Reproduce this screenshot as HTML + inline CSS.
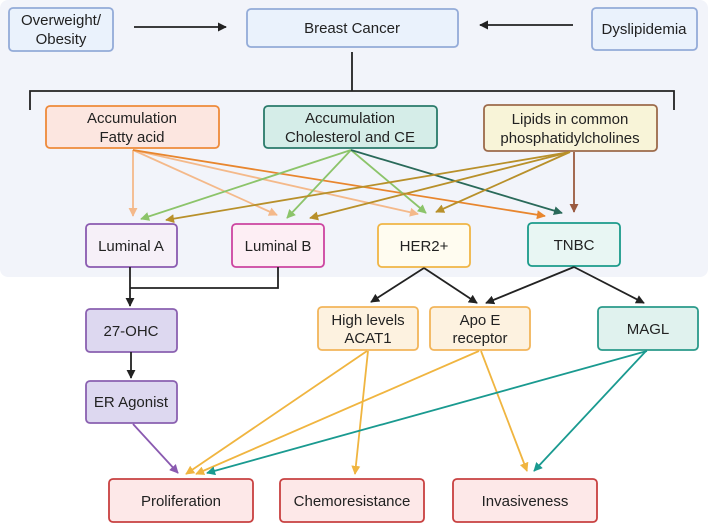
<!DOCTYPE html>
<html><head><meta charset="utf-8"><style>
html,body{margin:0;padding:0;background:#fff;}
svg text{font-family:"Liberation Sans",sans-serif;font-size:15px;fill:#222;text-anchor:middle;}
</style></head><body>
<svg width="708" height="525" viewBox="0 0 708 525" xmlns="http://www.w3.org/2000/svg">
<defs>
<marker id="mk" viewBox="0 0 10 10" refX="9" refY="5" markerWidth="9" markerHeight="9" markerUnits="userSpaceOnUse" orient="auto"><path d="M0,0L10,5L0,10z" fill="context-stroke"/></marker>
</defs>
<rect x="0" y="0" width="708" height="277" rx="8" fill="#f2f4fa"/>
<g stroke-width="1.8">
<rect x="9" y="8" width="104" height="43" rx="4" fill="#eaf2fc" stroke="#93abd8"/>
<rect x="247" y="9" width="211" height="38" rx="4" fill="#eaf2fc" stroke="#93abd8"/>
<rect x="592" y="8" width="105" height="42" rx="4" fill="#eaf2fc" stroke="#93abd8"/>
<rect x="46" y="106" width="173" height="42" rx="4" fill="#fce6e0" stroke="#ee8a3a"/>
<rect x="264" y="106" width="173" height="42" rx="4" fill="#d5ede8" stroke="#2a7a6a"/>
<rect x="484" y="105" width="173" height="46" rx="4" fill="#f8f4d8" stroke="#9c6a4a"/>
<rect x="86" y="224" width="91" height="43" rx="4" fill="#f6f0f8" stroke="#8a5ab0"/>
<rect x="232" y="224" width="92" height="43" rx="4" fill="#fdeef4" stroke="#cc44a0"/>
<rect x="378" y="224" width="92" height="43" rx="4" fill="#fffcf0" stroke="#f0b545"/>
<rect x="528" y="223" width="92" height="43" rx="4" fill="#e8f6f3" stroke="#1a9a8a"/>
<rect x="86" y="309" width="91" height="43" rx="4" fill="#ddd8f0" stroke="#8a60b0"/>
<rect x="86" y="381" width="91" height="42" rx="4" fill="#ddd8f0" stroke="#8a60b0"/>
<rect x="318" y="307" width="100" height="43" rx="4" fill="#fdf2e0" stroke="#f2b55a"/>
<rect x="430" y="307" width="100" height="43" rx="4" fill="#fdf2e0" stroke="#f2b55a"/>
<rect x="598" y="307" width="100" height="43" rx="4" fill="#e0f2ee" stroke="#2a9a8a"/>
<rect x="109" y="479" width="144" height="43" rx="4" fill="#fde8e8" stroke="#c84040"/>
<rect x="280" y="479" width="144" height="43" rx="4" fill="#fde8e8" stroke="#c84040"/>
<rect x="453" y="479" width="144" height="43" rx="4" fill="#fde8e8" stroke="#c84040"/>
</g>
<g fill="none" stroke-width="1.8">
<path d="M134 27H226" stroke="#222" marker-end="url(#mk)"/>
<path d="M573 25H480" stroke="#222" marker-end="url(#mk)"/>
<path d="M352 52V91M30 110V91H674V110" stroke="#222"/>
<path d="M133 150L133 216" stroke="#f4b98a" marker-end="url(#mk)"/>
<path d="M133 150L277 215" stroke="#f4b98a" marker-end="url(#mk)"/>
<path d="M133 150L418 214" stroke="#f4b98a" marker-end="url(#mk)"/>
<path d="M133 150L545 216" stroke="#e8862e" marker-end="url(#mk)"/>
<path d="M351 150L141 219" stroke="#8cc46a" marker-end="url(#mk)"/>
<path d="M351 150L287 218" stroke="#8cc46a" marker-end="url(#mk)"/>
<path d="M351 150L426 213" stroke="#8cc46a" marker-end="url(#mk)"/>
<path d="M351 150L562 213" stroke="#2a6a5a" marker-end="url(#mk)"/>
<path d="M570 152L166 220" stroke="#b8902a" marker-end="url(#mk)"/>
<path d="M570 152L310 218" stroke="#b8902a" marker-end="url(#mk)"/>
<path d="M570 152L436 212" stroke="#b8902a" marker-end="url(#mk)"/>
<path d="M574 152V212" stroke="#9a5a40" marker-end="url(#mk)"/>
<path d="M130 267V306" stroke="#222" marker-end="url(#mk)"/>
<path d="M278 267V288H130" stroke="#222"/>
<path d="M131 352V378" stroke="#222" marker-end="url(#mk)"/>
<path d="M424 268L371 302" stroke="#222" marker-end="url(#mk)"/>
<path d="M424 268L477 303" stroke="#222" marker-end="url(#mk)"/>
<path d="M574 267L486 303" stroke="#222" marker-end="url(#mk)"/>
<path d="M574 267L644 303" stroke="#222" marker-end="url(#mk)"/>
<path d="M133 424L178 473" stroke="#8a5ab0" marker-end="url(#mk)"/>
<path d="M367 351L186 474" stroke="#f0b540" marker-end="url(#mk)"/>
<path d="M368 351L355 474" stroke="#f0b540" marker-end="url(#mk)"/>
<path d="M479 351L196 474" stroke="#f0b540" marker-end="url(#mk)"/>
<path d="M481 351L527 471" stroke="#f0b540" marker-end="url(#mk)"/>
<path d="M647 351L207 473" stroke="#1a9a90" marker-end="url(#mk)"/>
<path d="M646 351L534 471" stroke="#1a9a90" marker-end="url(#mk)"/>
</g>
<text x="61" y="25">Overweight/</text><text x="61" y="44">Obesity</text>
<text x="352" y="33">Breast Cancer</text>
<text x="644" y="34">Dyslipidemia</text>
<text x="132" y="123">Accumulation</text><text x="132" y="142">Fatty acid</text>
<text x="350" y="123">Accumulation</text><text x="350" y="142">Cholesterol and CE</text>
<text x="570" y="124">Lipids in common</text><text x="570" y="143">phosphatidylcholines</text>
<text x="131" y="251">Luminal A</text>
<text x="278" y="251">Luminal B</text>
<text x="424" y="251">HER2+</text>
<text x="574" y="250">TNBC</text>
<text x="131" y="336">27-OHC</text>
<text x="131" y="407">ER Agonist</text>
<text x="368" y="325">High levels</text><text x="368" y="343">ACAT1</text>
<text x="480" y="325">Apo E</text><text x="480" y="343">receptor</text>
<text x="648" y="334">MAGL</text>
<text x="181" y="506">Proliferation</text>
<text x="352" y="506">Chemoresistance</text>
<text x="525" y="506">Invasiveness</text>
</svg>
</body></html>
